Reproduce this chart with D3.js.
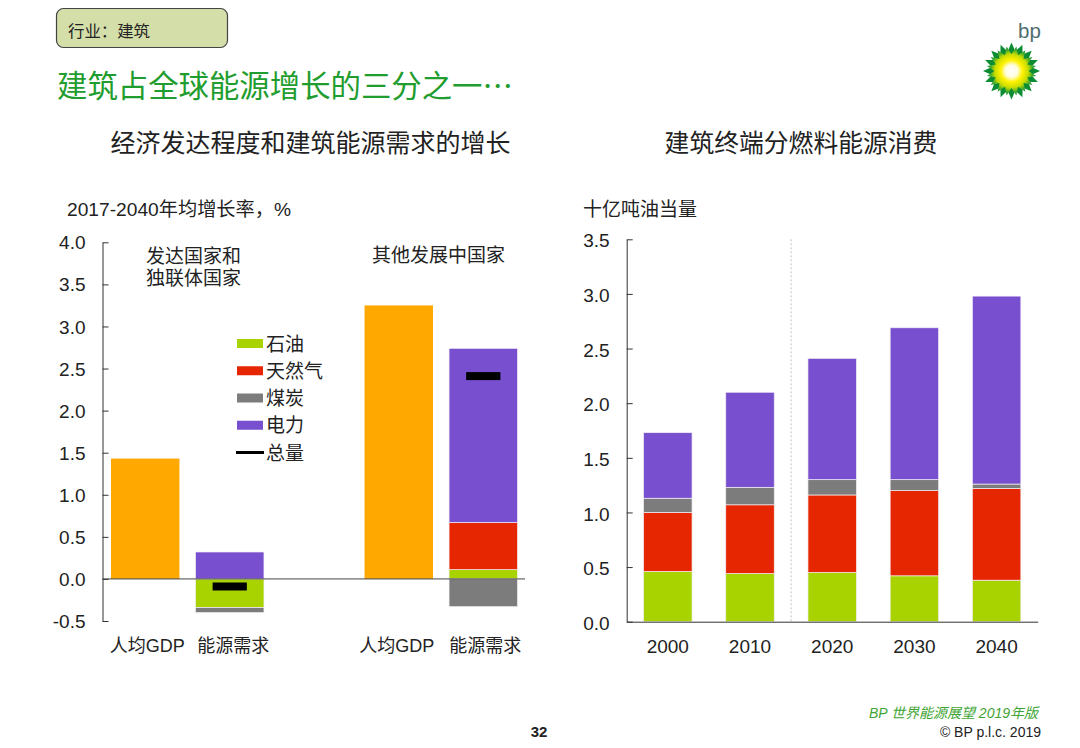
<!DOCTYPE html>
<html>
<head>
<meta charset="utf-8">
<script src="https://cdn.jsdelivr.net/npm/d3@7"></script>
<style>
html, body { margin:0; padding:0; background:#fff; }
svg { display:block; }
text { font-family:"Liberation Sans","Noto Sans CJK SC",sans-serif; fill:#222; }
.cjk { font-family:"Noto Sans CJK SC",sans-serif; }
.tick text { font-size:19px; fill:#222; }
.tick line, .domain { stroke:#333; stroke-width:1; }
</style>
</head>
<body>
<svg id="chart" width="1080" height="748"></svg>
<script>
// left chart: growth rates 2017-2040, %
var leftCategories = ["人均GDP ", "能源需求 ", "", "人均GDP", "能源需求"];
var leftGdp = [1.43, 0, 0, 3.25, 0];
var leftOil = [0, -0.34, 0, 0, 0.11];
var leftGas = [0, 0, 0, 0, 0.56];
var leftCoal = [0, -0.06, 0, 0, -0.33];
var leftPower = [0, 0.32, 0, 0, 2.07];
var leftTotal = [null, -0.09, null, null, 2.41];
var leftTicks = [-0.5, 0, 0.5, 1, 1.5, 2, 2.5, 3, 3.5, 4];

// right chart: billion toe
var years = ["2000", "2010", "2020", "2030", "2040"];
var rightOil = [0.46, 0.44, 0.45, 0.42, 0.38];
var rightGas = [0.54, 0.63, 0.71, 0.78, 0.84];
var rightCoal = [0.13, 0.16, 0.14, 0.10, 0.04];
var rightPower = [0.60, 0.87, 1.11, 1.39, 1.72];
var rightTicks = [0, 0.5, 1, 1.5, 2, 2.5, 3, 3.5];

var legendNames = ["石油", "天然气", "煤炭", "电力"];
var totalName = "总量";
var keys = ["oil", "gas", "coal", "power"];
var colors = { oil:"#a9d300", gas:"#e62600", coal:"#7c7c7c", power:"#774fcf", gdp:"#ffa900" };

var svg = d3.select("#chart");

function label(x, y, str, size, opts) {
  opts = opts || {};
  return svg.append("text")
    .attr("x", x).attr("y", y)
    .attr("class", opts.cjk ? "cjk" : null)
    .attr("text-anchor", opts.anchor || "start")
    .style("font-size", size + "px")
    .style("fill", opts.fill || "#222")
    .text(str);
}

function tickText(d) {
  return d3.format(".1f")(d).replace("−", "-");
}

// header
svg.append("rect").attr("x", 56.5).attr("y", 8.5).attr("width", 171).attr("height", 39).attr("rx", 7)
  .attr("fill", "#d4dea9").attr("stroke", "#444").attr("stroke-width", 1.2);
label(68, 36.5, "行业：建筑", 16.4);
label(57, 97, "建筑占全球能源增长的三分之一…", 30.4, { fill:"#1f9d2e", cjk:true });
label(310.5, 152, "经济发达程度和建筑能源需求的增长", 25, { anchor:"middle" });
label(801, 152, "建筑终端分燃料能源消费", 24.8, { anchor:"middle" });

// bp logo
var defs = svg.append("defs");
var grad = defs.append("radialGradient").attr("id", "sun");
[[0, "#ffffff"], [0.25, "#fffde0"], [0.45, "#fff200"], [0.68, "#c8dc00"], [0.85, "#4cae2a"], [1, "#0e8f33"]].forEach(function(s) {
  grad.append("stop").attr("offset", s[0]).attr("stop-color", s[1]);
});
var petals = d3.lineRadial().curve(d3.curveLinearClosed);
function star(n, outer, inner, turn) {
  return petals(d3.range(n * 2).map(function(i) {
    return [turn + i * Math.PI / n, i % 2 ? inner : outer];
  }));
}
var logo = svg.append("g").attr("transform", "translate(1011.5,71)");
logo.append("path").attr("d", star(16, 28.5, 20, 0)).attr("fill", "#0c8c33");
logo.append("path").attr("d", star(16, 25, 17, Math.PI / 16)).attr("fill", "url(#sun)");
svg.append("text").attr("x", 1018).attr("y", 38).style("font-size", "20.5px").style("fill", "#4f6f6f").text("bp");

// left chart
var leftY = d3.scaleLinear().domain([-0.5, 4]).range([621, 242.3]);
var leftX = d3.scaleBand().domain(leftCategories).range([111, 517.5]).paddingInner(0.19);

var leftRows = leftCategories.map(function(c, i) {
  return { cat:c, oil:leftOil[i], gas:leftGas[i], coal:leftCoal[i], power:leftPower[i] };
});
var leftStack = d3.stack().keys(keys).offset(d3.stackOffsetDiverging)(leftRows);

svg.append("g").selectAll("rect")
  .data(leftCategories.filter(function(c, i) { return leftGdp[i] > 0; }))
  .enter().append("rect")
  .attr("x", function(c) { return leftX(c); })
  .attr("width", leftX.bandwidth())
  .attr("y", function(c) { return leftY(leftGdp[leftCategories.indexOf(c)]); })
  .attr("height", function(c) { return leftY(0) - leftY(leftGdp[leftCategories.indexOf(c)]); })
  .attr("fill", colors.gdp);

function drawStack(layers, x, y) {
  svg.append("g").selectAll("g")
    .data(layers)
    .enter().append("g")
    .attr("fill", function(d) { return colors[d.key]; })
    .selectAll("rect")
    .data(function(d) { return d.filter(function(p) { return p[0] !== p[1]; }); })
    .enter().append("rect")
    .attr("x", function(p) { return x(p.data.cat); })
    .attr("width", x.bandwidth())
    .attr("y", function(p) { return y(p[1]); })
    .attr("height", function(p) { return y(p[0]) - y(p[1]); })
    .attr("stroke", "#f4eef6")
    .attr("stroke-width", 0.7);
}
drawStack(leftStack, leftX, leftY);

// total markers
svg.append("g").selectAll("rect")
  .data(leftCategories.filter(function(c, i) { return leftTotal[i] !== null; }))
  .enter().append("rect")
  .attr("x", function(c) { return leftX(c) + leftX.bandwidth() * 0.25; })
  .attr("width", leftX.bandwidth() * 0.5)
  .attr("y", function(c) { return leftY(leftTotal[leftCategories.indexOf(c)]) - 4; })
  .attr("height", 8)
  .attr("fill", "#000");

var leftAxis = svg.append("g")
  .attr("transform", "translate(102.5,0)")
  .call(d3.axisLeft(leftY).tickValues(leftTicks).tickFormat(tickText)
    .tickSizeInner(-6).tickSizeOuter(0).tickPadding(17));
leftAxis.selectAll("text").attr("y", 0.5);

// zero line
svg.append("line")
  .attr("x1", 102.5).attr("x2", 525)
  .attr("y1", leftY(0)).attr("y2", leftY(0))
  .attr("stroke", "#444").attr("stroke-width", 1);

// category labels sit a little off the bar centres in the original
var labelNudge = [2, 3.5, 0, -2, 2];
leftCategories.forEach(function(c, i) {
  if (c === "") return;
  label(leftX(c) + leftX.bandwidth() / 2 + labelNudge[i], 652, c.trim(), 18, { anchor:"middle" });
});

label(67, 216, "2017-2040年均增长率，%", 19.2);

var groupLabel = svg.append("text").style("font-size", "19px");
groupLabel.append("tspan").attr("x", 146).attr("y", 263).text("发达国家和");
groupLabel.append("tspan").attr("x", 146).attr("y", 285).text("独联体国家");
label(372, 262, "其他发展中国家", 19);

// legend
var legendY = d3.scalePoint().domain(legendNames.concat([totalName])).range([343.5, 452.5]);
var legendKeys = ["oil", "gas", "coal", "power"];
legendNames.forEach(function(n, i) {
  svg.append("rect").attr("x", 237).attr("y", legendY(n) - 4.5).attr("width", 26).attr("height", 9)
    .attr("fill", colors[legendKeys[i]]);
  label(266, legendY(n) + 7, n, 19);
});
svg.append("line").attr("x1", 236).attr("x2", 264)
  .attr("y1", legendY(totalName)).attr("y2", legendY(totalName))
  .attr("stroke", "#000").attr("stroke-width", 3);
label(266, legendY(totalName) + 7, totalName, 19);

// right chart
var rightY = d3.scaleLinear().domain([0, 3.5]).range([621.7, 239.3]);
var rightX = d3.scaleBand().domain(years).range([626.7, 1037.7]).paddingInner(0.41).paddingOuter(0.205);

var rightRows = years.map(function(c, i) {
  return { cat:c, oil:rightOil[i], gas:rightGas[i], coal:rightCoal[i], power:rightPower[i] };
});
drawStack(d3.stack().keys(keys)(rightRows), rightX, rightY);

// history / outlook divider
var dividerX = (rightX("2010") + rightX.bandwidth() + rightX("2020")) / 2;
svg.append("line")
  .attr("x1", dividerX).attr("x2", dividerX)
  .attr("y1", rightY(3.5)).attr("y2", rightY(0))
  .attr("stroke", "#c9b9cc").attr("stroke-width", 1).attr("stroke-dasharray", "2,2");

var rightValueAxis = svg.append("g")
  .attr("transform", "translate(626.7,0)")
  .call(d3.axisLeft(rightY).tickValues(rightTicks).tickFormat(tickText)
    .tickSizeInner(-6).tickSizeOuter(0).tickPadding(17));
rightValueAxis.selectAll("text").attr("y", 1.5);

var rightAxis = svg.append("g")
  .attr("transform", "translate(0," + rightY(0) + ")")
  .call(d3.axisBottom(rightX).tickSize(0).tickPadding(18));

label(583, 216, "十亿吨油当量", 19);

// footer
svg.append("text").attr("x", 539).attr("y", 737).attr("text-anchor", "middle")
  .style("font-size", "15px").style("font-weight", "bold").text("32");
svg.append("text").attr("x", 1038).attr("y", 718).attr("text-anchor", "end")
  .style("font-size", "14px").style("font-style", "italic").style("fill", "#3fa535")
  .text("BP 世界能源展望 2019年版");
svg.append("text").attr("x", 1041).attr("y", 737).attr("text-anchor", "end")
  .style("font-size", "14px").text("© BP p.l.c. 2019");
</script>
</body>
</html>
